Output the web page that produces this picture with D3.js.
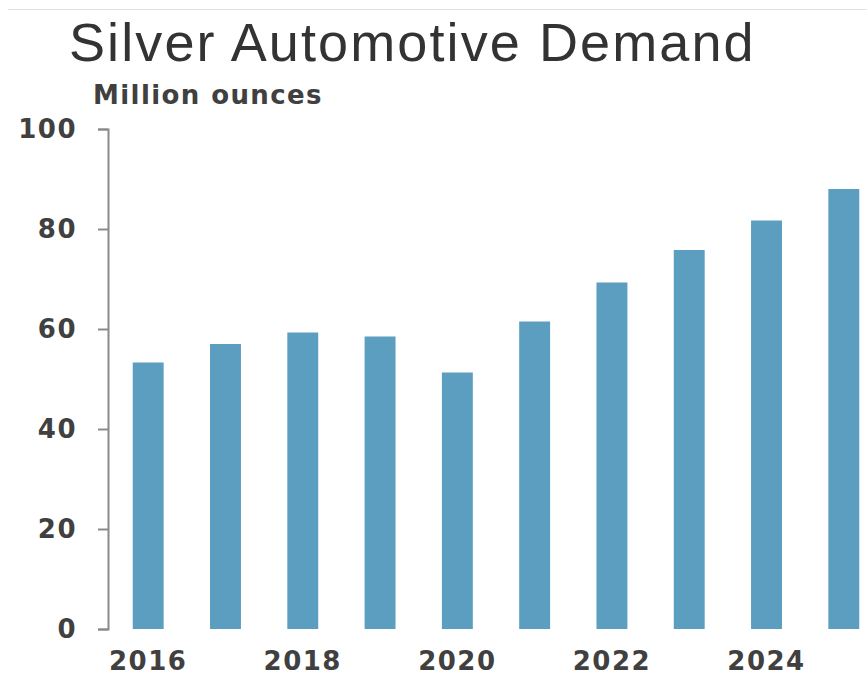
<!DOCTYPE html>
<html>
<head>
<meta charset="utf-8">
<script src="https://cdn.jsdelivr.net/npm/d3@7"></script>
<style>
  body { margin: 0; background: #fff; }
  svg { display: block; }
</style>
</head>
<body>
<script>
// 画布尺寸
var w = 867;
var h = 681;

// 数据
var years = ["2016", "2017", "2018", "2019", "2020", "2021", "2022", "2023", "2024", "2025"];
var demand = [53.3, 57, 59.3, 58.5, 51.3, 61.5, 69.3, 75.8, 81.7, 88];
var yTicks = [0, 20, 40, 60, 80, 100];
var xTickLabels = ["2016", "2018", "2020", "2022", "2024"];

var barColor = "#5b9ec0";
var axisColor = "#8a8a8a";
var textColor = "#404040";

var svg = d3.select("body").append("svg")
    .attr("width", w)
    .attr("height", h);

// 顶部的细线
svg.append("line")
    .attr("x1", 8).attr("x2", w)
    .attr("y1", 9.5).attr("y2", 9.5)
    .style("stroke", "#e2e2e2")
    .style("stroke-width", 1);

// 比例尺
var x = d3.scaleBand()
    .domain(years)
    .range([108, 884])
    .paddingInner(0.6)
    .paddingOuter(0.32);

var y = d3.scaleLinear()
    .domain([0, 100])
    .range([629, 129]);

// 标题
svg.append("text")
    .attr("x", 69)
    .attr("y", 61)
    .attr("font-family", "'Liberation Sans', Arial, sans-serif")
    .attr("font-size", 54)
    .attr("letter-spacing", 2.1)
    .style("fill", "#333")
    .text("Silver Automotive Demand");

// 单位
svg.append("text")
    .attr("x", 93)
    .attr("y", 104)
    .attr("font-family", "'DejaVu Sans', sans-serif")
    .attr("font-weight", "bold")
    .attr("font-size", 26)
    .attr("letter-spacing", 1.4)
    .style("fill", textColor)
    .text("Million ounces");

// 柱子
svg.selectAll("rect.bar")
    .data(demand)
    .enter()
    .append("rect")
    .attr("class", "bar")
    .attr("x", function (d, i) { return x(years[i]); })
    .attr("y", function (d) { return y(d); })
    .attr("width", x.bandwidth())
    .attr("height", function (d) { return y(0) - y(d); })
    .style("fill", barColor);

// y轴
var yAxis = svg.append("g")
    .attr("transform", "translate(108,0)")
    .call(d3.axisLeft(y)
        .tickValues(yTicks)
        .tickSize(10)
        .tickPadding(21));

yAxis.select(".domain")
    .style("stroke", axisColor)
    .style("stroke-width", 2);
yAxis.selectAll(".tick line")
    .style("stroke", axisColor)
    .style("stroke-width", 2);
yAxis.selectAll(".tick text")
    .attr("font-family", "'DejaVu Sans', sans-serif")
    .attr("font-weight", "bold")
    .attr("font-size", 26)
    .attr("letter-spacing", 1.5)
    .style("fill", textColor);

// x轴
var xAxis = svg.append("g")
    .attr("transform", "translate(0,629)")
    .call(d3.axisBottom(x)
        .tickValues(xTickLabels)
        .tickSize(0)
        .tickPadding(23));

xAxis.select(".domain").remove();
xAxis.selectAll(".tick text")
    .attr("font-family", "'DejaVu Sans', sans-serif")
    .attr("font-weight", "bold")
    .attr("font-size", 26)
    .attr("letter-spacing", 1.5)
    .style("fill", textColor);
</script>
</body>
</html>
